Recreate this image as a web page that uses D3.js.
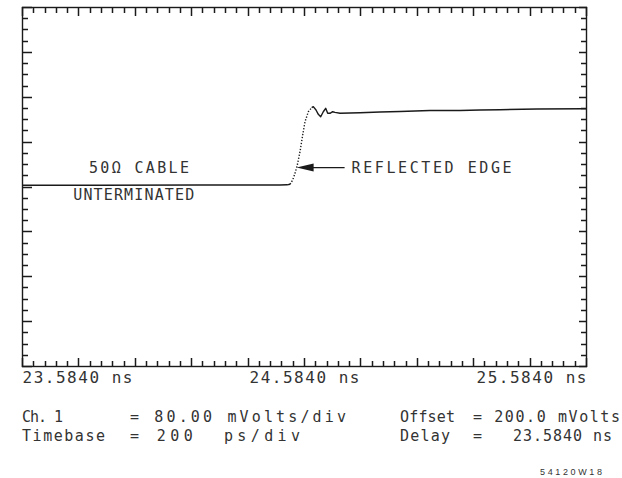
<!DOCTYPE html>
<html>
<head>
<meta charset="utf-8">
<script src="https://cdn.jsdelivr.net/npm/d3@7"></script>
<style>
  html, body { margin: 0; padding: 0; background: #fff; }
  svg { display: block; }
  text { font-family: "DejaVu Sans Mono", "Liberation Mono", monospace; fill: #333; }
</style>
</head>
<body>
<svg id="scope" width="622" height="478"></svg>
<script>
// Screen settings of the scope (HP 54120 style readout)
const timeStart = 23.584;      // ns, left edge (delay)
const timePerDiv = 0.2;        // ns/div (200 ps/div)
const timeDivs = 10;
const voltOffset = 200;        // mV at screen centre
const voltPerDiv = 80;         // mV/div
const voltDivs = 8;

// Captured waveform: time (ns) and channel 1 voltage (mV)
const traceTime = [
  23.584, 23.8606, 24.2152, 24.4989, 24.5237, 24.5344, 24.5439, 24.5521,
  24.5603, 24.5698, 24.5794, 24.5876, 24.5993, 24.6113, 24.6170, 24.6266,
  24.6347, 24.6432, 24.6524, 24.6609, 24.6680, 24.6762, 24.6857, 24.6940,
  24.7117, 24.7826, 24.8535, 24.9244, 25.0308, 25.1372, 25.2081, 25.2790,
  25.4102, 25.5734, 25.584
];
const traceVolt = [
  202.1, 202.3, 202.7, 202.7, 203.0, 203.9, 211.6, 223.5,
  238.3, 262.0, 291.8, 315.5, 333.3, 340.5, 342.3, 336.4,
  328.7, 324.4, 333.3, 339.4, 330.5, 330.5, 333.3, 332.2,
  330.5, 331.5, 332.8, 333.7, 335.5, 335.5, 336.4, 336.9,
  338.2, 338.7, 338.7
];
// Fast edge, shown as sparse sample dots between these times (ns)
const edgeWindow = [24.5344, 24.6113];

// Time axis labels
const timeLabels = [23.584, 24.584, 25.584];

// Readout rows under the screen
const readoutRow1 = ["Ch. 1", "= 80.00 mVolts/div", "Offset", "= 200.0 mVolts"];
const readoutRow2 = ["Timebase", "= 200  ps/div", "Delay", "=   23.5840 ns"];
const figureId = "54120W18";

// Annotations on the screen
const cableLabel = ["50\u03A9 CABLE", "UNTERMINATED"];
const edgeLabel = "REFLECTED EDGE";
const edgeTime = 24.5578;   // where the arrow points (ns)

(function draw() {
  const svg = d3.select("#scope");
  const frameL = 22, frameR = 586, frameT = 7, frameB = 366;

  const x = d3.scaleLinear()
    .domain([timeStart, timeStart + timePerDiv * timeDivs])
    .range([frameL, frameR]);
  const y = d3.scaleLinear()
    .domain([voltOffset - voltPerDiv * voltDivs / 2, voltOffset + voltPerDiv * voltDivs / 2])
    .range([frameB, frameT]);

  const ink = "#1a1a1a";

  // Graticule frame
  svg.append("rect")
    .attr("x", frameL + 0.5).attr("y", frameT + 0.5)
    .attr("width", frameR - frameL).attr("height", frameB - frameT)
    .attr("fill", "none").attr("stroke", ink).attr("stroke-width", 1.4);

  // Minor/major tick marks around the frame (5 per time division, 4 per volt division)
  const tMinor = d3.range(0, timeDivs * 5 + 1).map(i => timeStart + i * timePerDiv / 5);
  const vMinor = d3.range(0, voltDivs * 4 + 1).map(i => y.domain()[0] + i * voltPerDiv / 4);
  const isMajorT = t => { const k = (t - timeStart) / timePerDiv; return Math.abs(k - Math.round(k)) < 1e-6; };
  const isMajorV = v => { const k = (v - y.domain()[0]) / voltPerDiv; return Math.abs(k - Math.round(k)) < 1e-6; };
  const snap = v => Math.round(v) + 0.5;

  const tickG = svg.append("g")
    .attr("stroke", ink)
    .attr("stroke-width", 1.5)
    .attr("stroke-linecap", "butt");
  // top and bottom edges
  tickG.selectAll("line.t").data(tMinor).join("line").attr("class", "t")
    .attr("x1", d => snap(x(d))).attr("x2", d => snap(x(d)))
    .attr("y1", frameT).attr("y2", d => frameT + (isMajorT(d) ? 9 : 6));
  tickG.selectAll("line.b").data(tMinor).join("line").attr("class", "b")
    .attr("x1", d => snap(x(d))).attr("x2", d => snap(x(d)))
    .attr("y1", frameB + 1).attr("y2", d => frameB + 1 - (isMajorT(d) ? 9 : 6));
  // left and right edges
  tickG.selectAll("line.l").data(vMinor).join("line").attr("class", "l")
    .attr("y1", d => snap(y(d))).attr("y2", d => snap(y(d)))
    .attr("x1", frameL).attr("x2", d => frameL + (isMajorV(d) ? 10 : 6));
  tickG.selectAll("line.r").data(vMinor).join("line").attr("class", "r")
    .attr("y1", d => snap(y(d))).attr("y2", d => snap(y(d)))
    .attr("x1", frameR + 1).attr("x2", d => frameR + 1 - (isMajorV(d) ? 8 : 6));

  // Time axis labels
  const xAxis = d3.axisBottom(x)
    .tickValues(timeLabels)
    .tickSize(0)
    .tickFormat(d => d.toFixed(4) + " ns");
  const gx = svg.append("g").attr("transform", `translate(0,${frameB})`).call(xAxis);
  gx.select(".domain").remove();
  gx.selectAll("text")
    .attr("y", 17).attr("dy", 0)
    .style("font-family", '"DejaVu Sans Mono", monospace')
    .style("font-size", "16px")
    .attr("fill", "#333")
    .attr("textLength", 110).attr("lengthAdjust", "spacing")
    .attr("text-anchor", (d, i) => i === 0 ? "start" : i === timeLabels.length - 1 ? "end" : "middle");

  // Waveform trace: solid where the trace is slow, dotted across the fast edge
  const pts = traceTime.map((t, i) => [t, traceVolt[i]]);
  const line = d3.line().x(d => x(d[0])).y(d => y(d[1]));
  const before = pts.filter(d => d[0] <= edgeWindow[0]);
  const edge = pts.filter(d => d[0] >= edgeWindow[0] && d[0] <= edgeWindow[1]);
  const after = pts.filter(d => d[0] >= edgeWindow[1]);
  svg.append("g")
    .attr("fill", "none").attr("stroke", ink).attr("stroke-linejoin", "round")
    .selectAll("path")
    .data([
      { p: before, dash: null },
      { p: edge, dash: "1.3 1.7" },
      { p: after, dash: null }
    ])
    .join("path")
    .attr("d", d => line(d.p))
    .attr("stroke-width", 1.4)
    .attr("stroke-dasharray", d => d.dash);

  // Edge annotation: arrow pointing at the reflection
  const edgeVolt = d3.scaleLinear().domain(traceTime).range(traceVolt)(edgeTime);
  const tipX = x(edgeTime), tipY = y(edgeVolt);
  svg.append("path")
    .attr("d", `M${tipX},${tipY} L${tipX + 17},${tipY - 4} L${tipX + 17},${tipY + 4} Z`)
    .attr("fill", ink);
  svg.append("line")
    .attr("x1", tipX + 16).attr("x2", tipX + 48)
    .attr("y1", tipY).attr("y2", tipY)
    .attr("stroke", ink).attr("stroke-width", 1.2);
  svg.append("text")
    .attr("x", tipX + 55).attr("y", tipY + 5)
    .style("font-size", "15px")
    .attr("textLength", 160).attr("lengthAdjust", "spacing")
    .text(edgeLabel);

  // Cable labels around the flat baseline
  svg.append("text")
    .attr("x", 139).attr("y", 172.5)
    .attr("text-anchor", "middle")
    .style("font-size", "15px")
    .attr("textLength", 100).attr("lengthAdjust", "spacing")
    .text(cableLabel[0]);
  svg.append("text")
    .attr("x", 133.7).attr("y", 200)
    .attr("text-anchor", "middle")
    .style("font-size", "15px")
    .attr("textLength", 121).attr("lengthAdjust", "spacing")
    .text(cableLabel[1]);

  // Readout block: each field spans its own column
  const colX = [22, 130, 400, 473];
  const rowSpan = [
    [41, 216, 55, 147],
    [83, 170, 50, 139]
  ];
  [readoutRow1, readoutRow2].forEach((row, r) => {
    row.forEach((s, c) => {
      svg.append("text")
        .attr("x", colX[c]).attr("y", 422 + r * 19)
        .style("font-size", "15px")
        .attr("xml:space", "preserve")
        .style("white-space", "pre")
        .attr("textLength", rowSpan[r][c]).attr("lengthAdjust", "spacing")
        .text(s);
    });
  });
  svg.append("text")
    .attr("x", 540).attr("y", 475)
    .style("font-family", '"Liberation Sans", sans-serif')
    .style("font-size", "9px")
    .attr("textLength", 62).attr("lengthAdjust", "spacing")
    .text(figureId);
})();
</script>
</body>
</html>
